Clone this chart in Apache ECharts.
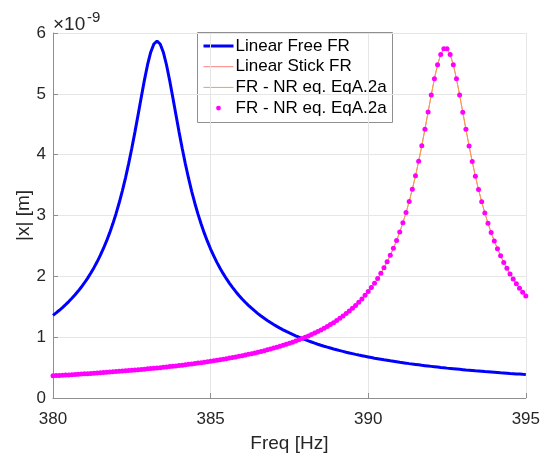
<!DOCTYPE html>
<html>
<head>
<meta charset="utf-8">
<script src="https://cdn.jsdelivr.net/npm/echarts@6/dist/echarts.min.js"></script>
<style>
  html, body { margin: 0; padding: 0; background: #ffffff; }
  #chart { width: 543px; height: 458px; }
</style>
</head>
<body>
<div id="chart"></div>
<script>
// Excitation frequency samples [Hz]
const freqHz = [
  380.0, 380.1, 380.2, 380.3, 380.4, 380.5, 380.6, 380.7, 380.8, 380.9,
  381.0, 381.1, 381.2, 381.3, 381.4, 381.5, 381.6, 381.7, 381.8, 381.9,
  382.0, 382.1, 382.2, 382.3, 382.4, 382.5, 382.6, 382.7, 382.8, 382.9,
  383.0, 383.1, 383.2, 383.3, 383.4, 383.5, 383.6, 383.7, 383.8, 383.9,
  384.0, 384.1, 384.2, 384.3, 384.4, 384.5, 384.6, 384.7, 384.8, 384.9,
  385.0, 385.1, 385.2, 385.3, 385.4, 385.5, 385.6, 385.7, 385.8, 385.9,
  386.0, 386.1, 386.2, 386.3, 386.4, 386.5, 386.6, 386.7, 386.8, 386.9,
  387.0, 387.1, 387.2, 387.3, 387.4, 387.5, 387.6, 387.7, 387.8, 387.9,
  388.0, 388.1, 388.2, 388.3, 388.4, 388.5, 388.6, 388.7, 388.8, 388.9,
  389.0, 389.1, 389.2, 389.3, 389.4, 389.5, 389.6, 389.7, 389.8, 389.9,
  390.0, 390.1, 390.2, 390.3, 390.4, 390.5, 390.6, 390.7, 390.8, 390.9,
  391.0, 391.1, 391.2, 391.3, 391.4, 391.5, 391.6, 391.7, 391.8, 391.9,
  392.0, 392.1, 392.2, 392.3, 392.4, 392.5, 392.6, 392.7, 392.8, 392.9,
  393.0, 393.1, 393.2, 393.3, 393.4, 393.5, 393.6, 393.7, 393.8, 393.9,
  394.0, 394.1, 394.2, 394.3, 394.4, 394.5, 394.6, 394.7, 394.8, 394.9,
  395.0
];

// |x| of the free (unstuck) linear system, in units of 1e-9 m
const freeFR = [
  1.359, 1.399, 1.442, 1.486, 1.534, 1.585, 1.639, 1.696, 1.758, 1.824,
  1.895, 1.971, 2.054, 2.143, 2.239, 2.344, 2.458, 2.582, 2.718, 2.867,
  3.030, 3.209, 3.405, 3.619, 3.853, 4.105, 4.375, 4.657, 4.945, 5.225,
  5.479, 5.684, 5.819, 5.867, 5.819, 5.684, 5.478, 5.223, 4.943, 4.655,
  4.371, 4.101, 3.847, 3.613, 3.398, 3.202, 3.022, 2.859, 2.710, 2.574,
  2.449, 2.335, 2.230, 2.133, 2.044, 1.961, 1.885, 1.814, 1.748, 1.686,
  1.628, 1.574, 1.523, 1.476, 1.431, 1.388, 1.348, 1.311, 1.275, 1.241,
  1.209, 1.178, 1.149, 1.121, 1.094, 1.069, 1.045, 1.022, 1.000, 0.978,
  0.958, 0.938, 0.920, 0.902, 0.884, 0.867, 0.851, 0.836, 0.821, 0.806,
  0.792, 0.779, 0.766, 0.753, 0.741, 0.729, 0.717, 0.706, 0.696, 0.685,
  0.675, 0.665, 0.655, 0.646, 0.637, 0.628, 0.620, 0.611, 0.603, 0.595,
  0.587, 0.580, 0.573, 0.565, 0.558, 0.552, 0.545, 0.538, 0.532, 0.526,
  0.520, 0.514, 0.508, 0.502, 0.497, 0.491, 0.486, 0.481, 0.476, 0.471,
  0.466, 0.461, 0.457, 0.452, 0.447, 0.443, 0.439, 0.434, 0.430, 0.426,
  0.422, 0.418, 0.414, 0.411, 0.407, 0.403, 0.400, 0.396, 0.393, 0.389,
  0.386
];

// |x| of the stuck linear system (also the NR solution of Eq. A.2a), in units of 1e-9 m
const stickFR = [
  0.365, 0.368, 0.371, 0.374, 0.377, 0.380, 0.383, 0.387, 0.390, 0.393,
  0.397, 0.400, 0.403, 0.407, 0.411, 0.414, 0.418, 0.422, 0.426, 0.430,
  0.434, 0.438, 0.442, 0.446, 0.451, 0.455, 0.460, 0.464, 0.469, 0.474,
  0.479, 0.484, 0.489, 0.494, 0.499, 0.505, 0.511, 0.516, 0.522, 0.528,
  0.534, 0.540, 0.547, 0.553, 0.560, 0.567, 0.574, 0.581, 0.589, 0.597,
  0.604, 0.612, 0.621, 0.629, 0.638, 0.647, 0.656, 0.666, 0.675, 0.686,
  0.696, 0.707, 0.718, 0.729, 0.741, 0.753, 0.766, 0.778, 0.792, 0.806,
  0.820, 0.835, 0.851, 0.867, 0.883, 0.900, 0.918, 0.937, 0.957, 0.977,
  0.998, 1.020, 1.043, 1.067, 1.093, 1.119, 1.147, 1.176, 1.207, 1.239,
  1.273, 1.309, 1.347, 1.387, 1.429, 1.474, 1.522, 1.573, 1.627, 1.687,
  1.749, 1.816, 1.888, 1.966, 2.049, 2.140, 2.238, 2.345, 2.462, 2.589,
  2.728, 2.880, 3.048, 3.231, 3.432, 3.652, 3.890, 4.147, 4.419, 4.701,
  4.982, 5.248, 5.477, 5.648, 5.740, 5.740, 5.648, 5.477, 5.247, 4.981,
  4.699, 4.417, 4.143, 3.886, 3.646, 3.426, 3.225, 3.041, 2.873, 2.720,
  2.581, 2.453, 2.337, 2.229, 2.131, 2.040, 1.956, 1.878, 1.806, 1.739,
  1.677
];

// Axis ticks
const xTicks = [380, 385, 390, 395];
const yTicks = [0, 1, 2, 3, 4, 5, 6];

// Legend entries
const legendLabels = ['Linear Free FR', 'Linear Stick FR', 'FR - NR eq. EqA.2a', 'FR - NR eq. EqA.2a'];

const FONT = '"Liberation Sans", Arial, Helvetica, sans-serif';
const AXIS_GRAY = '#8f8f8f';
const TEXT_DARK = '#262626';
const GRID_GRAY = '#e6e6e6';

const COLORS = {
  free: '#0000ff',
  stick: '#ff7f7f',
  nrLine: '#f0a04b',
  nrDots: '#ff00ff'
};

function pairs(xs, ys) {
  return xs.map((x, i) => [x, ys[i]]);
}

const chart = echarts.init(document.getElementById('chart'), null, { renderer: 'canvas' });

// Legend box drawn as a group of graphic elements
const legendX = 197.5, legendY = 32.5, legendW = 195, legendH = 90;
const rowY = [13.5, 34.2, 54.9, 75.6];
const legendChildren = [
  {
    type: 'rect',
    shape: { x: 0, y: 0, width: legendW, height: legendH },
    style: { fill: '#ffffff', stroke: AXIS_GRAY, lineWidth: 1 }
  },
  { type: 'line', shape: { x1: 6, y1: rowY[0], x2: 36, y2: rowY[0] }, style: { stroke: COLORS.free, lineWidth: 3 } },
  { type: 'line', shape: { x1: 6, y1: rowY[1], x2: 36, y2: rowY[1] }, style: { stroke: COLORS.stick, lineWidth: 1 } },
  { type: 'line', shape: { x1: 6, y1: rowY[2], x2: 36, y2: rowY[2] }, style: { stroke: COLORS.nrLine, lineWidth: 1 } },
  { type: 'circle', shape: { cx: 21, cy: rowY[3], r: 2.4 }, style: { fill: COLORS.nrDots } }
];
legendLabels.forEach((label, i) => {
  legendChildren.push({
    type: 'text',
    x: 38, y: rowY[i],
    style: {
      text: label, fill: '#000000',
      font: '17px ' + FONT,
      verticalAlign: 'middle', align: 'left'
    }
  });
});

const option = {
  animation: false,
  backgroundColor: '#ffffff',
  grid: { left: 53, right: 16, top: 33, bottom: 60, containLabel: false },
  xAxis: {
    type: 'value',
    min: xTicks[0],
    max: xTicks[xTicks.length - 1],
    interval: xTicks[1] - xTicks[0],
    name: 'Freq [Hz]',
    nameLocation: 'middle',
    nameGap: 36,
    nameMoveOverlap: false,
    nameTextStyle: { fontFamily: FONT, fontSize: 19, color: TEXT_DARK },
    axisLine: { show: true, onZero: false, lineStyle: { color: AXIS_GRAY, width: 1 } },
    axisTick: { show: true, inside: true, length: 5, lineStyle: { color: AXIS_GRAY } },
    axisLabel: { fontFamily: FONT, fontSize: 17, color: TEXT_DARK, margin: 13 },
    splitLine: { show: true, lineStyle: { color: GRID_GRAY, width: 1 } }
  },
  yAxis: {
    type: 'value',
    min: yTicks[0],
    max: yTicks[yTicks.length - 1],
    interval: yTicks[1] - yTicks[0],
    name: '|x| [m]',
    nameLocation: 'middle',
    nameGap: 20,
    nameMoveOverlap: false,
    nameTextStyle: { fontFamily: FONT, fontSize: 19, color: TEXT_DARK },
    axisLine: { show: true, lineStyle: { color: AXIS_GRAY, width: 1 } },
    axisTick: { show: true, inside: true, length: 5, lineStyle: { color: AXIS_GRAY } },
    axisLabel: { fontFamily: FONT, fontSize: 17, color: TEXT_DARK, margin: 7 },
    splitLine: { show: true, lineStyle: { color: GRID_GRAY, width: 1 } }
  },
  series: [
    {
      id: 'free',
      name: legendLabels[0],
      type: 'line',
      data: pairs(freqHz, freeFR),
      showSymbol: false,
      symbol: 'none',
      smooth: false,
      lineStyle: { color: COLORS.free, width: 3 },
      z: 2
    },
    {
      id: 'stick',
      name: legendLabels[1],
      type: 'line',
      data: pairs(freqHz, stickFR),
      showSymbol: false,
      symbol: 'none',
      lineStyle: { color: COLORS.stick, width: 1 },
      z: 3
    },
    {
      id: 'nrLine',
      name: legendLabels[2],
      type: 'line',
      data: pairs(freqHz, stickFR),
      showSymbol: false,
      symbol: 'none',
      lineStyle: { color: COLORS.nrLine, width: 1 },
      z: 4
    },
    {
      id: 'nrDots',
      name: legendLabels[3],
      type: 'scatter',
      data: pairs(freqHz, stickFR),
      symbol: 'circle',
      symbolSize: 5,
      clip: false,
      itemStyle: { color: COLORS.nrDots, opacity: 1 },
      z: 5
    }
  ],
  graphic: [
    {
      type: 'text',
      left: 53, top: 15,
      z: 50,
      style: { text: '\u00d710', fill: TEXT_DARK, font: '19px ' + FONT }
    },
    {
      type: 'text',
      left: 87, top: 10,
      z: 50,
      style: { text: '-9', fill: TEXT_DARK, font: '15px ' + FONT }
    },
    {
      type: 'group',
      x: legendX, y: legendY,
      z: 100,
      children: legendChildren
    }
  ]
};

chart.setOption(option);
</script>
</body>
</html>
